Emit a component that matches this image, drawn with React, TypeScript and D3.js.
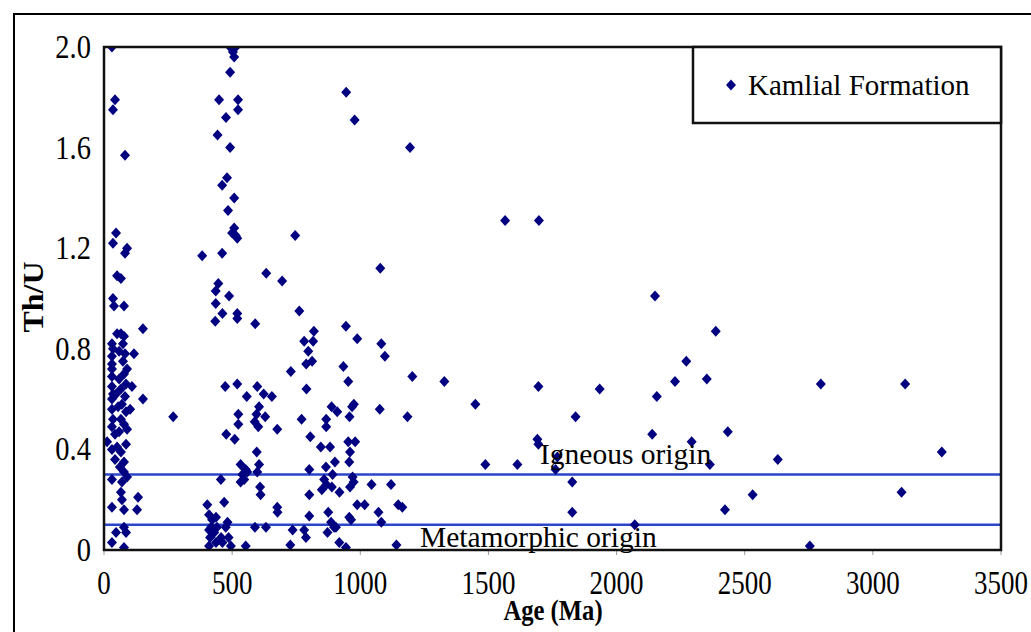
import React, { useEffect, useRef } from 'react';
import * as d3 from 'd3';

// Kamlial Formation detrital zircons: [age (Ma), Th/U]
const kamlialPoints: [number, number][] = [
  // < 300 Ma
  [31, 2.0], [43, 1.79], [35, 1.75], [82, 1.57], [47, 1.26], [35, 1.22], [82, 1.18], [90, 1.2],
  [51, 1.09], [66, 1.08], [35, 1.0], [39, 0.97], [78, 0.97], [152, 0.88], [51, 0.86], [66, 0.86],
  [78, 0.85], [31, 0.82], [35, 0.8], [31, 0.77], [31, 0.74], [31, 0.72], [31, 0.69], [31, 0.65],
  [35, 0.62], [31, 0.6], [31, 0.56], [35, 0.52], [31, 0.49], [43, 0.46], [74, 0.82], [82, 0.78],
  [74, 0.75], [90, 0.72], [78, 0.7], [86, 0.66], [66, 0.64], [82, 0.61], [70, 0.58], [86, 0.55],
  [66, 0.52], [78, 0.5], [90, 0.48], [117, 0.78], [109, 0.65], [152, 0.6], [102, 0.56], [12, 0.43],
  [31, 0.4], [51, 0.41], [66, 0.39], [78, 0.35], [78, 0.31], [70, 0.27], [31, 0.28], [66, 0.23],
  [70, 0.2], [133, 0.21], [31, 0.17], [78, 0.16], [129, 0.16], [78, 0.09], [86, 0.07], [31, 0.03],
  [78, 0.01], [270, 0.53], [59, 0.79], [59, 0.68], [55, 0.57], [47, 0.62], [59, 0.47], [86, 0.42],
  [62, 0.33], [43, 0.36], [90, 0.29], [47, 0.07],
  // 380 - 700 Ma
  [492, 2.0], [503, 1.98], [514, 2.0], [508, 1.96], [492, 1.9], [449, 1.79], [523, 1.79], [523, 1.75],
  [476, 1.72], [443, 1.65], [492, 1.6], [480, 1.48], [461, 1.45], [508, 1.4], [484, 1.35], [508, 1.28],
  [500, 1.26], [520, 1.24], [514, 1.25], [383, 1.17], [461, 1.18], [633, 1.1], [695, 1.07], [446, 1.06],
  [436, 1.03], [488, 1.01], [436, 0.98], [462, 0.94], [434, 0.91], [520, 0.94], [520, 0.92], [590, 0.9],
  [473, 0.65], [520, 0.66], [557, 0.61], [598, 0.65], [623, 0.62], [655, 0.61], [524, 0.54], [524, 0.5],
  [605, 0.57], [595, 0.54], [629, 0.53], [588, 0.51], [602, 0.49], [676, 0.48], [477, 0.46], [510, 0.44],
  [596, 0.39], [605, 0.34], [533, 0.34], [553, 0.32], [540, 0.3], [559, 0.31], [533, 0.27], [547, 0.28],
  [598, 0.31], [456, 0.28], [609, 0.25], [611, 0.22], [676, 0.17], [677, 0.15], [403, 0.18], [469, 0.19],
  [410, 0.14], [437, 0.13], [422, 0.12], [418, 0.09], [410, 0.08], [441, 0.09], [430, 0.07], [414, 0.05],
  [457, 0.05], [437, 0.03], [410, 0.016], [482, 0.11], [475, 0.09], [486, 0.05], [495, 0.016], [462, 0.03],
  [553, 0.016], [589, 0.09], [632, 0.09],
  // 700 - 1250 Ma
  [746, 1.25], [945, 1.82], [978, 1.71], [1194, 1.6], [1078, 1.12], [762, 0.95], [819, 0.87], [781, 0.83],
  [816, 0.83], [797, 0.79], [812, 0.75], [789, 0.74], [729, 0.71], [944, 0.89], [988, 0.84], [790, 0.64],
  [934, 0.73], [953, 0.67], [1082, 0.82], [1096, 0.77], [771, 0.52], [888, 0.57], [910, 0.55], [867, 0.52],
  [867, 0.49], [958, 0.53], [975, 0.58], [968, 0.57], [805, 0.45], [846, 0.41], [882, 0.41], [953, 0.43],
  [980, 0.43], [960, 0.39], [957, 0.35], [1076, 0.56], [801, 0.32], [866, 0.33], [901, 0.35], [859, 0.28],
  [868, 0.26], [850, 0.24], [889, 0.25], [892, 0.3], [919, 0.23], [970, 0.29], [974, 0.27], [960, 0.25],
  [1044, 0.26], [801, 0.22], [988, 0.18], [1017, 0.18], [801, 0.135], [875, 0.15], [886, 0.11], [898, 0.09],
  [905, 0.09], [957, 0.13], [964, 0.12], [736, 0.08], [781, 0.08], [788, 0.05], [727, 0.02], [872, 0.07],
  [918, 0.03], [944, 0.01], [1071, 0.15], [1120, 0.26], [1082, 0.11], [1148, 0.18], [1164, 0.17], [1141, 0.02],
  [1203, 0.69], [1184, 0.53],
  // > 1250 Ma
  [1328, 0.67], [1449, 0.58], [1488, 0.34], [1613, 0.34], [1695, 0.65], [1691, 0.44], [1695, 0.42], [1769, 0.37],
  [1762, 0.32], [1827, 0.27], [1827, 0.15], [1840, 0.53], [1934, 0.64], [1565, 1.31], [1697, 1.31], [2150, 1.01],
  [2387, 0.87], [2272, 0.75], [2228, 0.67], [2352, 0.68], [2157, 0.61], [2139, 0.46], [2293, 0.43], [2434, 0.47],
  [2364, 0.34], [2629, 0.36], [2531, 0.22], [2423, 0.16], [2071, 0.1], [2754, 0.016], [2797, 0.66], [3126, 0.66],
  [3269, 0.39], [3112, 0.23],
];

const xTicks = [0, 500, 1000, 1500, 2000, 2500, 3000, 3500];
const yTicks = [0, 0.4, 0.8, 1.2, 1.6, 2.0];
const originLines = [
  { value: 0.3, label: 'Igneous origin' },
  { value: 0.1, label: 'Metamorphic origin' },
];
const seriesName = 'Kamlial Formation';

const W = 1031;
const H = 632;
const plot = { left: 104, right: 1001, top: 47, bottom: 550 };
const serif = "'Liberation Serif', 'Times New Roman', serif";
const navy = '#000080';

export default function App() {
  const ref = useRef<SVGSVGElement>(null);

  useEffect(() => {
    const svg = d3.select(ref.current);
    svg.selectAll('*').remove();

    const x = d3.scaleLinear().domain([0, 3500]).range([plot.left, plot.right]);
    const y = d3.scaleLinear().domain([0, 2]).range([plot.bottom, plot.top]);

    svg.append('rect').attr('width', W).attr('height', H).attr('fill', '#fff');
    // outer frame
    svg.append('rect')
      .attr('x', 14).attr('y', 14).attr('width', W).attr('height', H)
      .attr('fill', 'none').attr('stroke', '#000').attr('stroke-width', 2);

    svg.append('defs').append('clipPath').attr('id', 'plotClip')
      .append('rect')
      .attr('x', plot.left).attr('y', plot.top)
      .attr('width', plot.right - plot.left).attr('height', plot.bottom - plot.top);

    // x tick marks
    svg.append('g').selectAll('line').data(xTicks).enter().append('line')
      .attr('x1', d => x(d)).attr('x2', d => x(d))
      .attr('y1', plot.bottom).attr('y2', plot.bottom + 5)
      .attr('stroke', '#999').attr('stroke-width', 1);

    // tick labels (the original lettering is tall and narrow)
    svg.append('g').selectAll('text').data(xTicks).enter().append('text')
      .attr('transform', d => `translate(${x(d)},594) scale(0.9,1.1)`)
      .attr('text-anchor', 'middle')
      .style('font-family', serif).style('font-size', '30px')
      .text(d => String(d));

    svg.append('g').selectAll('text').data(yTicks).enter().append('text')
      .attr('transform', d => `translate(91,${y(d) + 11}) scale(0.95,1.1)`)
      .attr('text-anchor', 'end')
      .style('font-family', serif).style('font-size', '30px')
      .text(d => (d === 0 ? '0' : d.toFixed(1)));

    // axis titles
    svg.append('text')
      .attr('transform', 'translate(553,620) scale(0.88,1.08)').attr('text-anchor', 'middle')
      .style('font-family', serif).style('font-size', '28px').style('font-weight', 'bold')
      .text('Age (Ma)');
    svg.append('text')
      .attr('transform', 'translate(43,297) rotate(-90) scale(1.1,1)').attr('text-anchor', 'middle')
      .style('font-family', serif).style('font-size', '29px').style('font-weight', 'bold')
      .text('Th/U');

    // origin lines
    svg.append('g').selectAll('line').data(originLines).enter().append('line')
      .attr('x1', plot.left).attr('x2', plot.right)
      .attr('y1', d => y(d.value)).attr('y2', d => y(d.value))
      .attr('stroke', '#2b45c8').attr('stroke-width', 2.5);

    // points
    const diamond = d3.symbol().type(d3.symbolSquare).size(50)();
    svg.append('g').attr('clip-path', 'url(#plotClip)')
      .selectAll('path').data(kamlialPoints).enter().append('path')
      .attr('d', diamond)
      .attr('transform', d => `translate(${x(d[0])},${y(d[1])}) scale(1,1.1) rotate(45)`)
      .attr('fill', navy);

    // origin labels
    svg.append('text')
      .attr('x', 540).attr('y', 464)
      .style('font-family', serif).style('font-size', '29.5px')
      .text(originLines[0].label);
    svg.append('text')
      .attr('x', 420).attr('y', 547)
      .style('font-family', serif).style('font-size', '29.5px')
      .text(originLines[1].label);

    // plot border
    svg.append('rect')
      .attr('x', plot.left).attr('y', plot.top)
      .attr('width', plot.right - plot.left).attr('height', plot.bottom - plot.top)
      .attr('fill', 'none').attr('stroke', '#111').attr('stroke-width', 2.5);

    // legend
    const lg = svg.append('g');
    lg.append('rect')
      .attr('x', 693).attr('y', plot.top).attr('width', plot.right - 693).attr('height', 76)
      .attr('fill', '#fff').attr('stroke', '#111').attr('stroke-width', 2.5);
    lg.append('path')
      .attr('d', diamond)
      .attr('transform', 'translate(731,85) scale(1,1.1) rotate(45)')
      .attr('fill', navy);
    lg.append('text')
      .attr('x', 748).attr('y', 95)
      .style('font-family', serif).style('font-size', '29px')
      .text(seriesName);
  }, []);

  return (
    <svg ref={ref} width={W} height={H}
      style={{ position: 'absolute', left: 0, top: 0, display: 'block' }} />
  );
}
